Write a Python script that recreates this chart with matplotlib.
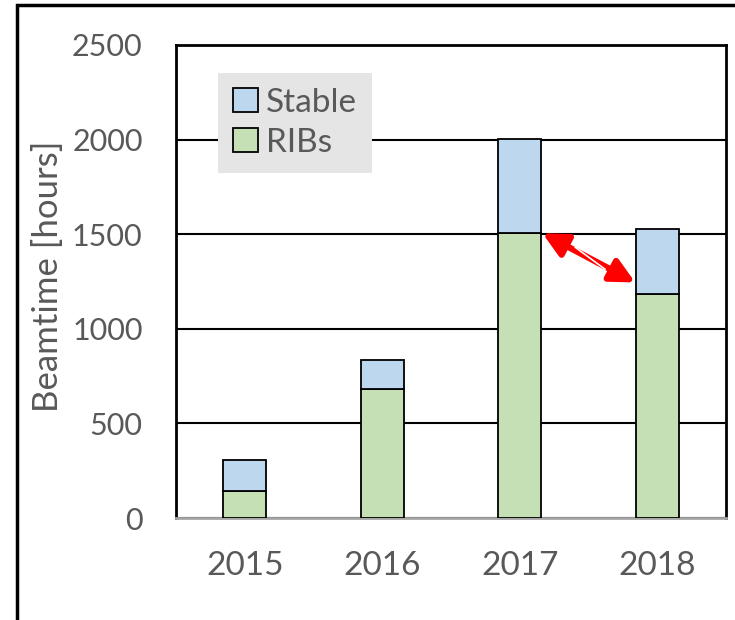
import numpy as np
import matplotlib
matplotlib.use("Agg")
import matplotlib.pyplot as plt
from matplotlib.patches import Rectangle, FancyArrowPatch

plt.rcParams['font.family'] = ['Lato', 'DejaVu Sans']

years = ['2015', '2016', '2017', '2018']
ribs = [143, 682, 1505, 1185]
stable = [162, 153, 500, 340]

txt = '#595959'

fig = plt.figure(figsize=(7.35, 6.2), dpi=100)
ax = fig.add_axes([176/735, 1-518/620, 550/735, 473/620])

x = np.arange(len(years))
w = 0.31
ax.bar(x, ribs, w, color='#c5e0b4', edgecolor='black', lw=1.3, label='RIBs', zorder=3)
ax.bar(x, stable, w, bottom=ribs, color='#bdd7ee', edgecolor='black', lw=1.3, label='Stable', zorder=3)

ax.set_xlim(-0.5, 3.5)
ax.set_ylim(0, 2500)
ax.set_yticks([0, 500, 1000, 1500, 2000, 2500])
ax.set_xticks(x)
ax.set_xticklabels(years)
ax.tick_params(length=0, labelsize=24, colors=txt)
ax.tick_params(axis='x', pad=24)
ax.tick_params(axis='y', pad=24, labelsize=22)
for t in ax.get_xticklabels() + ax.get_yticklabels():
    t.set_color(txt)
ax.yaxis.grid(True, color='black', lw=1.5, zorder=0)
for s in ['left', 'top', 'right']:
    ax.spines[s].set_linewidth(2)
ax.spines['bottom'].set_color('#a6a6a6')
ax.spines['bottom'].set_linewidth(2)
ax.set_ylabel('Beamtime [hours]', fontsize=25, color=txt, va='center')
ax.yaxis.set_label_coords(-0.232, 0.51)

h, l = ax.get_legend_handles_labels()
leg = ax.legend(h[::-1], l[::-1], loc='upper left', bbox_to_anchor=(0.076, 0.941),
                borderaxespad=0, fontsize=24, frameon=True, fancybox=False,
                handlelength=0.75, handleheight=0.75, handletextpad=0.25,
                labelspacing=0.3, borderpad=0.45)
leg.get_frame().set_facecolor('#e5e5e5')
leg.get_frame().set_edgecolor('none')
leg.get_frame().set_alpha(1)
leg.set_zorder(5)
for t in leg.get_texts():
    t.set_color(txt)

# arrow between 2017 and 2018 RIBs
arr = FancyArrowPatch((2 + w/2 + 0.01, ribs[2]), (2.84, 1245), arrowstyle='<|-|>',
                      mutation_scale=36, color='red', lw=4.5, zorder=6, shrinkA=0, shrinkB=0)
ax.add_patch(arr)
ax.plot([2 + w/2 + 0.25, 2.62], [1430, 1315], color='white', lw=1.2, zorder=7)

fig.add_artist(Rectangle((17/735, -0.1), 1.1, 1 - 5/620 + 0.1, transform=fig.transFigure,
                         fill=False, ec='black', lw=2.5))

fig.savefig('out.png', dpi=100)
